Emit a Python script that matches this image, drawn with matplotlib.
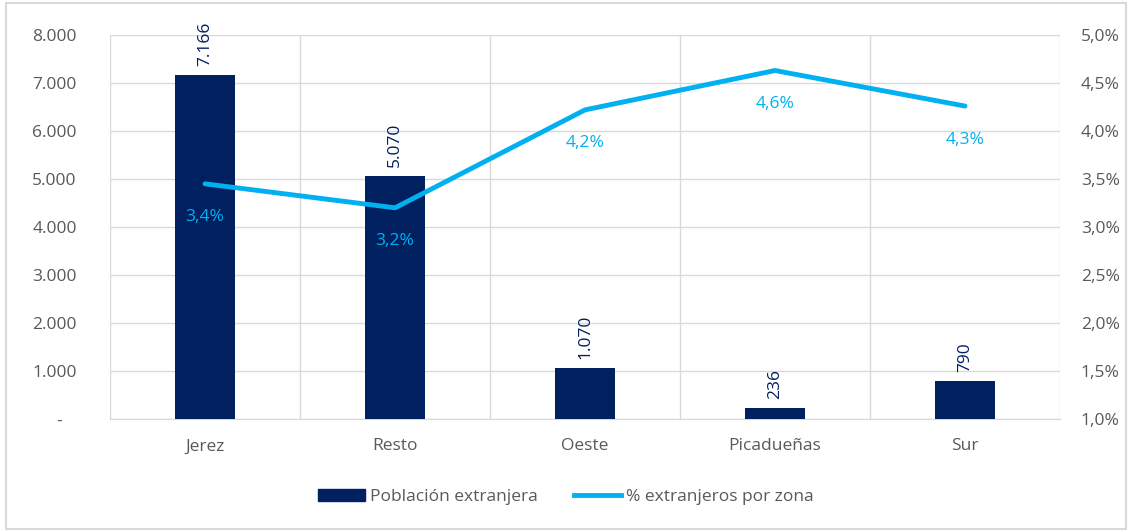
import matplotlib.pyplot as plt
from matplotlib.patches import Rectangle
from matplotlib.lines import Line2D

zonas = ['Jerez', 'Resto', 'Oeste', 'Picadueñas', 'Sur']
poblacion = [7166, 5070, 1070, 236, 790]
porcentaje = [3.45, 3.2, 4.22, 4.63, 4.26]
etiquetas_pct = ['3,4%', '3,2%', '4,2%', '4,6%', '4,3%']

navy = '#002060'
azul = '#00B0F0'
gris = '#595959'
rejilla = '#D9D9D9'

plt.rcParams['font.family'] = ['Open Sans', 'DejaVu Sans']

fig = plt.figure(figsize=(11.32, 5.32), dpi=100)
ax = fig.add_axes([0.0972, 0.2124, 0.8392, 0.7218])
x = list(range(len(zonas)))

# barras
ax.bar(x, poblacion, width=0.32, color=navy, zorder=3)
for xi, v in zip(x, poblacion):
    ax.text(xi, v + 180, f'{v:,}'.replace(',', '.'), rotation=90, ha='center', va='bottom',
            color=navy, fontsize=12.5)

ax.set_xlim(-0.5, len(zonas) - 0.5)
ax.set_ylim(0, 8000)
ax.set_yticks(range(0, 8001, 1000))
ax.set_yticklabels(['-   '] + [f'{v:,}'.replace(',', '.') for v in range(1000, 8001, 1000)])
ax.set_xticks(x)
ax.set_xticklabels(zonas)
ax.tick_params(length=0, colors=gris, labelsize=12.5)
ax.tick_params(axis='x', pad=14)
ax.tick_params(axis='y', pad=24)

# rejilla
ax.grid(axis='y', color=rejilla, linewidth=1, zorder=0)
for b in [i - 0.5 for i in range(len(zonas) + 1)]:
    ax.axvline(b, color=rejilla, linewidth=1, zorder=0)
for s in ax.spines.values():
    s.set_visible(False)
ax.spines['bottom'].set_visible(True)
ax.spines['bottom'].set_color(rejilla)

# linea en eje secundario
ax2 = ax.twinx()
ax2.plot(x, porcentaje, color=azul, linewidth=3.5, solid_capstyle='round', zorder=4)
for xi, p, t in zip(x, porcentaje, etiquetas_pct):
    ax2.text(xi, p - 0.35, t, ha='center', va='center', color=azul, fontsize=12.5)
ax2.set_ylim(1.0, 5.0)
ax2.set_yticks([1.0 + 0.5 * i for i in range(9)])
ax2.set_yticklabels([f'{1.0 + 0.5 * i:.1f}%'.replace('.', ',') for i in range(9)])
ax2.tick_params(length=0, colors=gris, labelsize=12.5, pad=15)
for s in ax2.spines.values():
    s.set_visible(False)

# leyenda
handles = [Rectangle((0, 0), 1, 1, color=navy), Line2D([0], [0], color=azul, linewidth=3.5)]
fig.legend(handles, ['Población extranjera', '% extranjeros por zona'], loc='center',
           bbox_to_anchor=(0.5, 0.066), ncol=2, frameon=False, fontsize=12.5,
           labelcolor=gris, handlelength=2.7, handletextpad=0.3, columnspacing=2.1)

fig.patches.append(Rectangle((0.005, 0.005), 0.99, 0.99, transform=fig.transFigure,
                             fill=False, edgecolor=rejilla, linewidth=1.5))

fig.savefig('out.png', dpi=100)
